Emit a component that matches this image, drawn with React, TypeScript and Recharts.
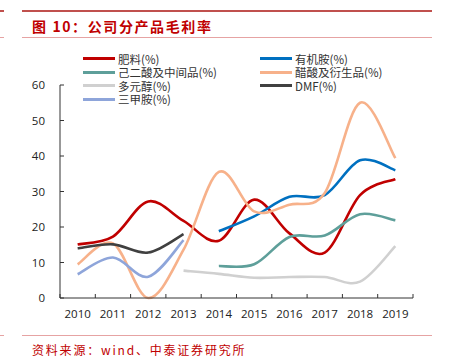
import React from "react";
import { LineChart, Line, XAxis, YAxis } from "recharts";

const years = ["2010", "2011", "2012", "2013", "2014", "2015", "2016", "2017", "2018", "2019"];
const yTicks = [0, 10, 20, 30, 40, 50, 60];

const fertilizer = [15.1, 17.3, 27.2, 21.7, 16.1, 27.7, 18.2, 12.8, 29, 33.5];
const organicAmine = [null, null, null, null, 18.8, 23, 28.5, 29, 38.8, 36];
const adipic = [null, null, null, null, 9, 9.5, 17.2, 17.6, 23.6, 21.9];
const acetic = [9.5, 15.4, 0, 13.6, 35.5, 24.4, 26.3, 29.6, 55, 39.4];
const polyol = [null, null, null, 7.7, 6.8, 5.7, 5.9, 5.9, 4.6, 14.6];
const dmf = [14, 15.1, 12.8, 18, null, null, null, null, null, null];
const trimethylamine = [6.7, 11.4, 6, 16.3, null, null, null, null, null, null];

const series = [
  { key: "f", name: "肥料(%)", values: fertilizer, color: "#C00000" },
  { key: "oa", name: "有机胺(%)", values: organicAmine, color: "#0070C0" },
  { key: "ad", name: "己二酸及中间品(%)", values: adipic, color: "#5E9F9A" },
  { key: "ac", name: "醋酸及衍生品(%)", values: acetic, color: "#F7B18A" },
  { key: "po", name: "多元醇(%)", values: polyol, color: "#D0D0D0" },
  { key: "dmf", name: "DMF(%)", values: dmf, color: "#404040" },
  { key: "tm", name: "三甲胺(%)", values: trimethylamine, color: "#8EA5DA" },
];

const data = years.map((y, i) => {
  const row: any = { idx: i, year: y };
  series.forEach((s) => (row[s.key] = s.values[i]));
  return row;
});

// excel-like smoothing (catmull-rom through the points)
const smooth = (context: any) => {
  let pts: number[][] = [];
  return {
    areaStart() {},
    areaEnd() {},
    lineStart() {
      pts = [];
    },
    lineEnd() {
      if (!pts.length) return;
      context.moveTo(pts[0][0], pts[0][1]);
      for (let i = 0; i < pts.length - 1; i++) {
        const p0 = pts[i - 1] || pts[i];
        const p1 = pts[i];
        const p2 = pts[i + 1];
        const p3 = pts[i + 2] || p2;
        context.bezierCurveTo(
          p1[0] + (p2[0] - p0[0]) / 6,
          p1[1] + (p2[1] - p0[1]) / 6,
          p2[0] - (p3[0] - p1[0]) / 6,
          p2[1] - (p3[1] - p1[1]) / 6,
          p2[0],
          p2[1]
        );
      }
    },
    point(x: number, y: number) {
      pts.push([+x, +y]);
    },
  };
};

const font = '"Open Sans", sans-serif';
const cjk = '"Noto Sans CJK SC", sans-serif';
// ticks at every half step: integers get a year label, halves get a tick mark
const xTicks = years.flatMap((_, i) => [i - 0.5, i]).concat([years.length - 0.5]);

const XTick = (props: any) => {
  const { x, y, payload } = props;
  const v = payload.value;
  if (Number.isInteger(v)) {
    return (
      <text x={x} y={y + 17} textAnchor="middle" dominantBaseline="middle" fontSize={11.5} fill="#222" fontFamily={font}>
        {years[v]}
      </text>
    );
  }
  return <line x1={x} x2={x} y1={y} y2={y - 4} stroke="#333" />;
};

const hr = (top: number, h: number, color: string) => (
  <>
    <div style={{ position: "absolute", left: 0, width: 4, top, height: h, background: color }} />
    <div style={{ position: "absolute", left: 22, width: 410, top, height: h, background: color }} />
  </>
);

export default function App() {
  return (
    <div style={{ position: "absolute", left: 0, top: 0, width: 451, height: 357, background: "#fff", overflow: "hidden" }}>
      {hr(10, 2, "#C0504D")}
      <div
        style={{
          position: "absolute",
          left: 32,
          top: 16,
          fontFamily: cjk,
          fontWeight: 700,
          fontSize: 14,
          letterSpacing: 1.6,
          color: "#C00000",
          lineHeight: "20px",
          whiteSpace: "nowrap",
        }}
      >
        图 10：公司分产品毛利率
      </div>
      {hr(37, 1, "#E6A3A3")}

      <LineChart
        width={451}
        height={357}
        data={data}
        margin={{ top: 85, right: 38, bottom: 29, left: 20 }}
        style={{ position: "absolute", left: 0, top: 0 }}
      >
        <XAxis
          dataKey="idx"
          type="number"
          domain={[-0.5, years.length - 0.5]}
          ticks={xTicks}
          tick={<XTick />}
          tickLine={false}
          tickSize={0}
          tickMargin={0}
          axisLine={{ stroke: "#333" }}
          height={30}
          interval={0}
        />
        <YAxis
          domain={[0, 60]}
          ticks={yTicks}
          width={40}
          interval={0}
          tickSize={-4}
          tickMargin={19}
          axisLine={{ stroke: "#333" }}
          tickLine={{ stroke: "#333" }}
          tick={{ fontSize: 11.5, fill: "#222", fontFamily: font }}
        />
        {series.map((s) => (
          <Line
            key={s.key}
            dataKey={s.key}
            name={s.name}
            type={smooth as any}
            stroke={s.color}
            strokeWidth={2.6}
            dot={false}
            activeDot={false}
            isAnimationActive={false}
          />
        ))}
      </LineChart>

      {series.map((s, i) => (
        <div
          key={s.key}
          style={{
            position: "absolute",
            left: i === 1 || i === 3 || i === 5 ? 260 : 83,
            top: 52 + [0, 0, 1, 1, 2, 2, 3][i] * 13.5,
            height: 13,
            display: "flex",
            alignItems: "center",
            whiteSpace: "nowrap",
          }}
        >
          <div style={{ width: 32, height: 3, background: s.color, marginRight: 3 }} />
          <span style={{ fontFamily: cjk, fontSize: 11.5, color: "#333", lineHeight: "12px" }}>{s.name}</span>
        </div>
      ))}

      {hr(335, 1, "#E6A3A3")}
      <div
        style={{
          position: "absolute",
          left: 32,
          top: 342,
          fontFamily: cjk,
          fontSize: 12,
          letterSpacing: 1.8,
          color: "#C00000",
          lineHeight: "16px",
          whiteSpace: "nowrap",
        }}
      >
        资料来源：wind、中泰证券研究所
      </div>
    </div>
  );
}
